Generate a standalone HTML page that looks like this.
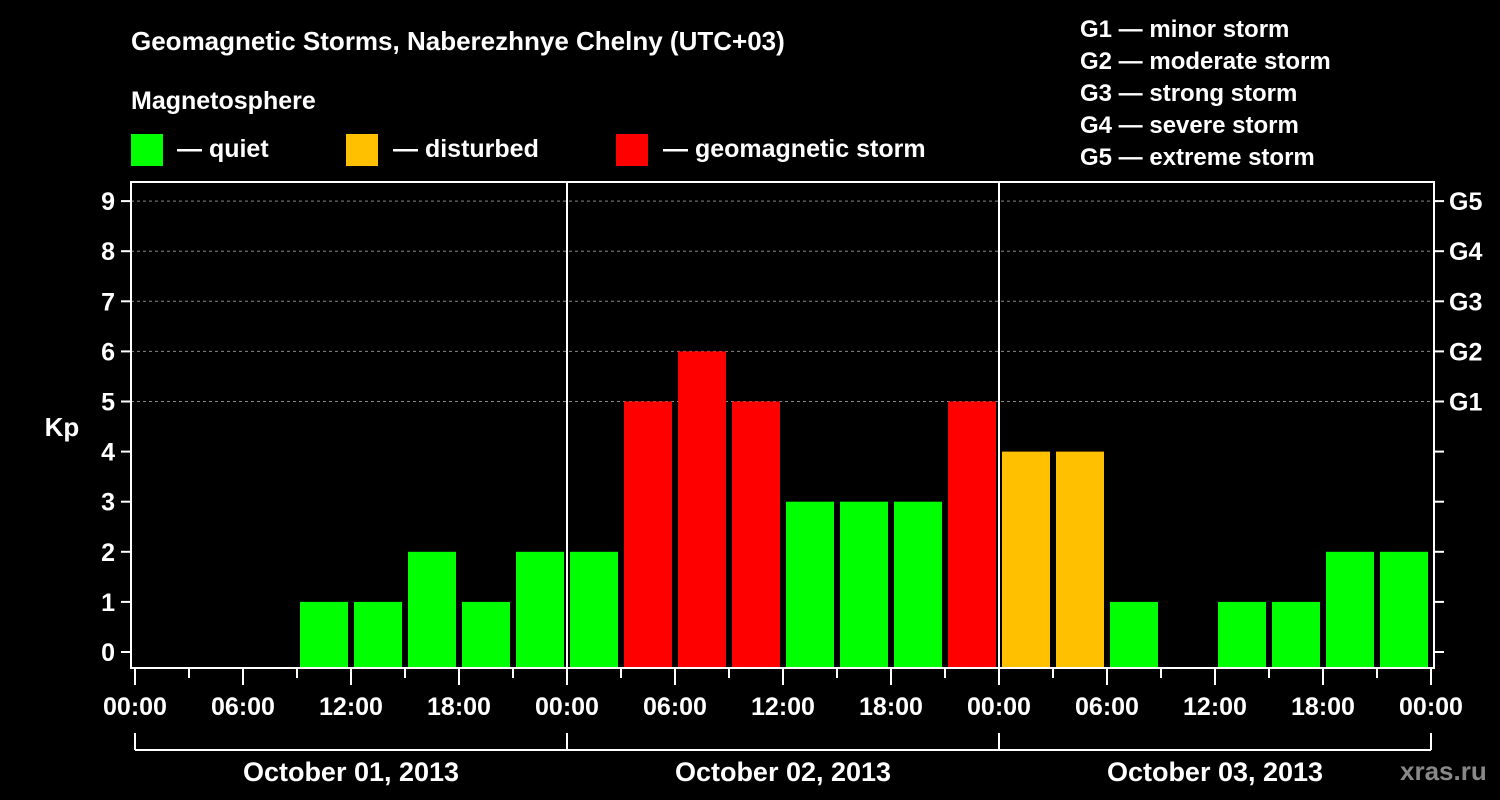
<!DOCTYPE html>
<html><head><meta charset="utf-8"><style>
body{margin:0;background:#000;}
svg{display:block;font-family:"Liberation Sans",sans-serif;font-weight:bold;}
</style></head><body>
<svg id="c" width="1500" height="800" viewBox="0 0 1500 800">
<rect width="1500" height="800" fill="#000"/>
<text x="131" y="50" fill="#fff" font-size="26">Geomagnetic Storms, Naberezhnye Chelny (UTC+03)</text>
<text x="131" y="109" fill="#fff" font-size="25">Magnetosphere</text>
<g><rect x="131" y="134" width="32" height="32" fill="#00ff00"/><text x="177" y="157" fill="#fff" font-size="25">— quiet</text></g>
<g><rect x="346" y="134" width="32" height="32" fill="#ffc000"/><text x="393" y="157" fill="#fff" font-size="25">— disturbed</text></g>
<g><rect x="616" y="134" width="32" height="32" fill="#ff0000"/><text x="663" y="157" fill="#fff" font-size="25">— geomagnetic storm</text></g>
<g fill="#fff" font-size="24">
<text x="1080" y="37">G1 — minor storm</text>
<text x="1080" y="69">G2 — moderate storm</text>
<text x="1080" y="101">G3 — strong storm</text>
<text x="1080" y="133">G4 — severe storm</text>
<text x="1080" y="165">G5 — extreme storm</text>
</g>
<text x="62" y="436" fill="#fff" font-size="26" text-anchor="middle">Kp</text>
<text x="1400" y="780" fill="#888" font-size="26">xras.ru</text>
<g id="plot"></g>
</svg>
<script>
const days = ["October 01, 2013","October 02, 2013","October 03, 2013"];
const kpValues = [0,0,0,1,1,2,1,2, 2,5,6,5,3,3,3,5, 4,4,1,0,1,1,2,2];
const yTicks = [0,1,2,3,4,5,6,7,8,9];
const gLabels = ["G1","G2","G3","G4","G5"];
const xTickLabels = ["00:00","06:00","12:00","18:00"];

const NS="http://www.w3.org/2000/svg";
const g=document.getElementById('plot');
const X0=135, DAY=432, L=131, R=1434, T=182, B=668;
const xs=h=>X0+h/24*DAY;
const ys=v=>652-v*50.1;
function el(tag,attrs,parent){const e=document.createElementNS(NS,tag);for(const k in attrs)e.setAttribute(k,attrs[k]);(parent||g).appendChild(e);return e;}
// gridlines
yTicks.forEach(v=>{
  if(v>=5){const l=el('line',{x1:L,x2:R,y1:ys(v),y2:ys(v),stroke:'#888','stroke-dasharray':'3,3','stroke-width':1});
  
  }
  const t=el('line',{x1:L-10,x2:L,y1:ys(v),y2:ys(v),stroke:'#fff','stroke-width':2});
  
  
  const t2=el('line',{x1:R,x2:R+10,y1:ys(v),y2:ys(v),stroke:'#fff','stroke-width':2});
  
  
  const tx=el('text',{x:L-16,y:ys(v)+9,fill:'#fff','font-size':25,'text-anchor':'end'});
  tx.textContent=v;
  
  
});
gLabels.forEach((s,i)=>{
  const tx=el('text',{x:R+15,y:ys(5+i)+9,fill:'#fff','font-size':25});
  tx.textContent=s;
  
  
});
// bars
kpValues.forEach((v,i)=>{
  if(v<=0)return;
  const c=v>=5?'#ff0000':(v>=4?'#ffc000':'#00ff00');
  const r=el('rect',{x:xs(i*3)+3,y:ys(v),width:DAY/8-6,height:B-ys(v),fill:c});
  
  
});
// day separators
for(let d=1;d<days.length;d++){
  const l=el('line',{x1:xs(d*24),x2:xs(d*24),y1:T,y2:B,stroke:'#fff','stroke-width':2});
  
  
}
// frame
const f=el('rect',{x:L,y:T,width:R-L,height:B-T,fill:'none',stroke:'#fff','stroke-width':2});


// x ticks
for(let h=0;h<=days.length*24;h+=3){
  const major=h%6===0;
  const t=el('line',{x1:xs(h),x2:xs(h),y1:B,y2:B+(major?17:10),stroke:'#fff','stroke-width':2});
  
  
  if(major){
    const tx=el('text',{x:xs(h),y:715,fill:'#fff','font-size':25,'text-anchor':'middle'});
    tx.textContent=xTickLabels[(h/6)%4];
    
    
  }
}
// day brackets
const bp=el('path',{d:'',fill:'none',stroke:'#fff','stroke-width':2});
let d='M'+xs(0)+' 750 H'+xs(days.length*24);
for(let i=0;i<=days.length;i++)d+=' M'+xs(i*24)+' 733 V750';
bp.setAttribute('d',d);


days.forEach((s,i)=>{
  const tx=el('text',{x:xs(i*24+12),y:781,fill:'#fff','font-size':27,'text-anchor':'middle'});
  tx.textContent=s;
  
  
});
</script>
</body></html>
